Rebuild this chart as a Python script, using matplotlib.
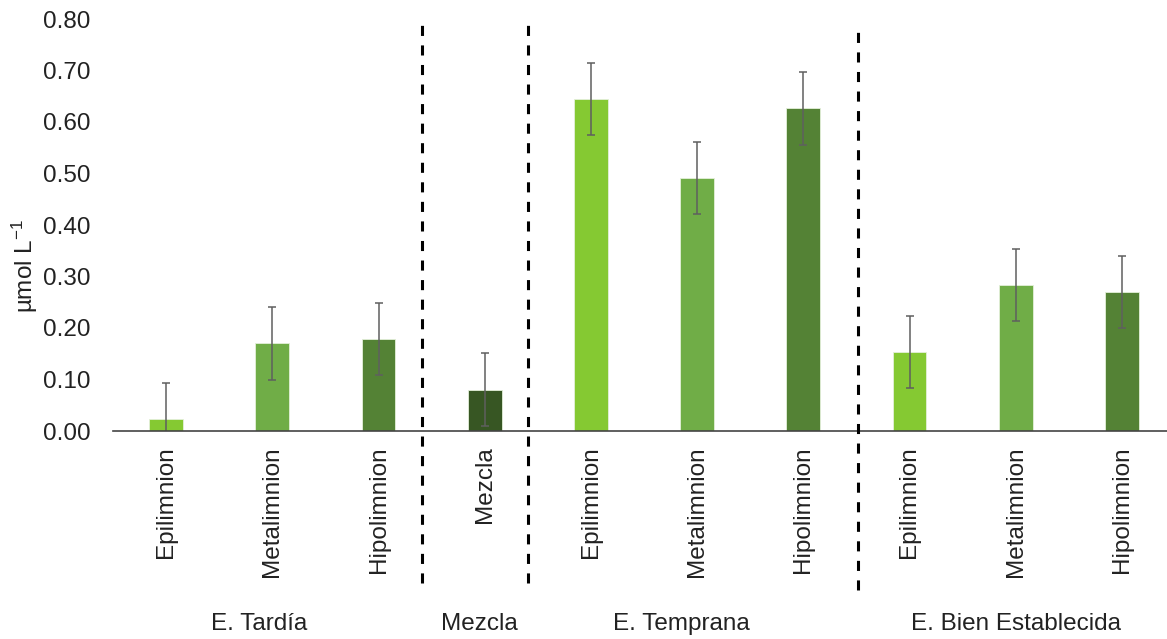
import matplotlib
matplotlib.use("Agg")
import matplotlib.pyplot as plt
from matplotlib.transforms import blended_transform_factory

plt.rcParams["font.family"] = ["Liberation Sans", "DejaVu Sans"]
plt.rcParams["mathtext.fontset"] = "custom"
plt.rcParams["mathtext.rm"] = "Liberation Sans"
plt.rcParams["mathtext.it"] = "Liberation Sans:italic"

# Data
layers = ["Epilimnion", "Metalimnion", "Hipolimnion", "Mezcla",
          "Epilimnion", "Metalimnion", "Hipolimnion",
          "Epilimnion", "Metalimnion", "Hipolimnion"]
values = [0.023, 0.170, 0.178, 0.080, 0.644, 0.491, 0.627, 0.153, 0.284, 0.270]
errors = [0.070, 0.070, 0.070, 0.071, 0.070, 0.070, 0.071, 0.070, 0.070, 0.070]
groups = ["E. Tardía", "Mezcla", "E. Temprana", "E. Bien Establecida"]
group_members = [[0, 1, 2], [3], [4, 5, 6], [7, 8, 9]]
yticks = [0.0, 0.1, 0.2, 0.3, 0.4, 0.5, 0.6, 0.7, 0.8]

layer_colors = {"Epilimnion": "#85C932", "Metalimnion": "#70AD47",
                "Hipolimnion": "#548235", "Mezcla": "#375623"}

W, H, DPI = 1167, 639, 100
fig = plt.figure(figsize=(W / DPI, H / DPI), dpi=DPI)
ax = fig.add_axes([113 / W, (H - 431) / H, 1062 / W, 412 / H])

x = list(range(len(values)))
ax.bar(x, values, width=0.32, color=[layer_colors[l] for l in layers],
       edgecolor="#E4F0DA", linewidth=0.6, zorder=2)
ax.errorbar(x, values, yerr=errors, fmt="none", ecolor="#5F5F5F",
            elinewidth=1.1, capsize=2.6, capthick=1.1, zorder=3)

ax.set_xlim(-0.5, len(values) - 0.5)
ax.set_ylim(0, 0.8)
ax.set_yticks(yticks)
ax.set_yticklabels([f"{v:.2f}" for v in yticks])
ax.set_xticks(x)
ax.set_xticklabels(layers, rotation=90, va="top", ha="center")
ax.tick_params(axis="both", length=0, labelsize=17.5, colors="#222222")
ax.tick_params(axis="x", pad=11)
ax.tick_params(axis="y", pad=16)

for side in ["top", "right", "left"]:
    ax.spines[side].set_visible(False)
ax.spines["bottom"].set_color("#444444")
ax.spines["bottom"].set_linewidth(1.2)
ax.spines["bottom"].set_zorder(4)

# Group labels below the layer names
trans = blended_transform_factory(ax.transData, ax.transAxes)
label_nudge = [-0.12, -0.05, -0.15, 0.0]
for name, members, dx in zip(groups, group_members, label_nudge):
    cx = sum(members) / len(members) + dx
    ax.text(cx, -0.468, name, transform=trans, ha="center", va="center",
            fontsize=17.5, color="#222222")

# Dashed dividers between stratification phases
dividers = [(2.413, 0.793, -0.295), (3.412, 0.793, -0.295), (6.519, 0.779, -0.309)]
for xd, ytop, ybot in dividers:
    ax.plot([xd, xd], [ybot, ytop], color="black", lw=2.2,
            linestyle=(0, (3.3, 3.1)), clip_on=False, zorder=5)

fig.text(25 / W, (H - 266) / H, r"µmol L$^{-1}$", rotation=90,
         ha="center", va="center", fontsize=17.5, color="#222222")

fig.savefig("out.png", dpi=DPI, facecolor="white")
